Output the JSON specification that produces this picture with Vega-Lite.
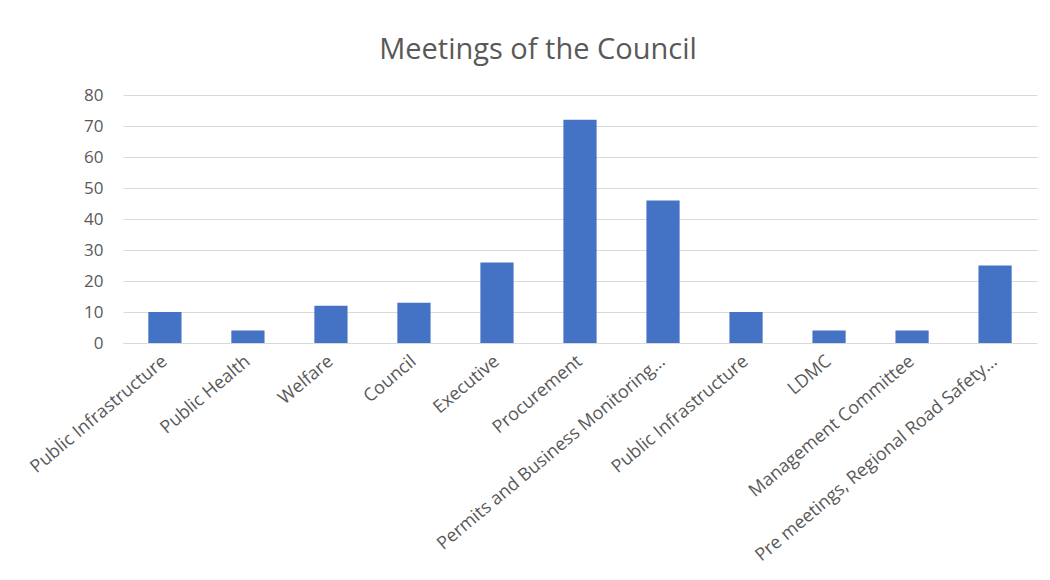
{
  "$schema": "https://vega.github.io/schema/vega-lite/v6.json",
  "autosize": "none",
  "width": 914,
  "height": 248,
  "padding": {"left": 123, "top": 95, "right": 13, "bottom": 237},
  "background": "white",
  "title": {
    "text": "Meetings of the Council",
    "font": "Open Sans",
    "fontSize": 29,
    "fontWeight": "normal",
    "color": "#595959",
    "anchor": "middle",
    "frame": "group",
    "dx": -42,
    "offset": 21
  },
  "data": {
    "values": [
      {"committee": "Public Infrastructure", "meetings": 10},
      {"committee": "Public Health", "meetings": 4},
      {"committee": "Welfare", "meetings": 12},
      {"committee": "Council", "meetings": 13},
      {"committee": "Executive", "meetings": 26},
      {"committee": "Procurement", "meetings": 72},
      {"committee": "Permits and Business Monitoring…", "meetings": 46},
      {"committee": "Public Infrastructure ", "meetings": 10},
      {"committee": "LDMC", "meetings": 4},
      {"committee": "Management Committee", "meetings": 4},
      {"committee": "Pre meetings, Regional Road Safety…", "meetings": 25}
    ]
  },
  "mark": {"type": "bar", "color": "#4472C4"},
  "encoding": {
    "x": {
      "field": "committee",
      "type": "nominal",
      "sort": null,
      "scale": {"paddingInner": 0.6, "paddingOuter": 0.305},
      "axis": {
        "title": null,
        "labelAngle": -40,
        "labelAlign": "right",
        "labelBaseline": "middle",
        "labelFont": "Open Sans",
        "labelFontSize": 18,
        "labelColor": "#595959",
        "labelPadding": 16,
        "ticks": false,
        "domainColor": "#d9d9d9",
        "labelLimit": 400
      }
    },
    "y": {
      "field": "meetings",
      "type": "quantitative",
      "scale": {"domain": [0, 80]},
      "axis": {
        "title": null,
        "values": [0, 10, 20, 30, 40, 50, 60, 70, 80],
        "domain": false,
        "ticks": false,
        "labelFont": "Open Sans",
        "labelFontSize": 17,
        "labelColor": "#595959",
        "labelPadding": 20,
        "gridColor": "#d9d9d9"
      }
    }
  },
  "config": {"view": {"stroke": null}}
}
